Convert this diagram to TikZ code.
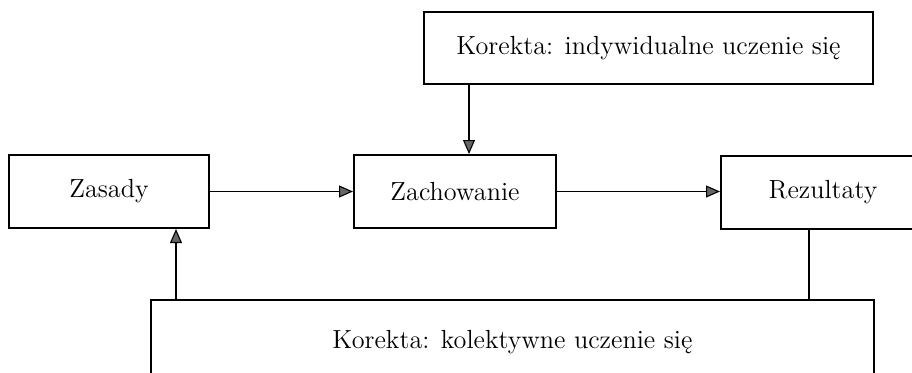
\documentclass[tikz,border=0pt]{standalone}
\usepackage{fontspec}
\usepackage{tikz}
\usetikzlibrary{arrows.meta,positioning}
\tikzstyle{arrow} = [line width=0.55pt,-{Triangle[length=7pt,width=6pt,fill=black!60]}]
\tikzstyle{link} = [line width=0.55pt]
\tikzstyle{box} = [rectangle, draw=black, line width=1pt, minimum height=36.5pt, text centered, inner sep=0pt, font=\fontsize{13.1}{16}\selectfont]

\begin{document}
\begin{tikzpicture}[x=0.5pt,y=-0.5pt]
\useasboundingbox (0,0) rectangle (912,372);
% main chain
\node (zasady) [box, minimum width=100pt] at (109,191.5) {Zasady};
\node (zachowanie) [box, minimum width=101pt] at (455,191.5) {Zachowanie};
\node (rezultaty) [box, minimum width=102pt] at (823,192.5) {Rezultaty};

% corrections
\node (indywidualne) [box, minimum width=224.5pt, minimum height=36pt] at (648.5,48) {Korekta: indywidualne uczenie się};
\node (kolektywne) [box, minimum width=361.5pt, minimum height=42pt] at (512.5,342) {Korekta: kolektywne uczenie się};

\draw[arrow] (zasady) -- (zachowanie);
\draw[arrow] (zachowanie.east) -- (zachowanie.east -| rezultaty.west);
\draw[arrow] ([xshift=7pt]zachowanie.north |- indywidualne.south) -- ([xshift=7pt]zachowanie.north);
\draw[link] ([xshift=-7pt]rezultaty.south) -- ([xshift=-7pt]rezultaty.south |- kolektywne.north);
\draw[arrow] ([xshift=33.5pt]zasady.south |- kolektywne.north) -- ([xshift=33.5pt]zasady.south);
\end{tikzpicture}
\end{document}
